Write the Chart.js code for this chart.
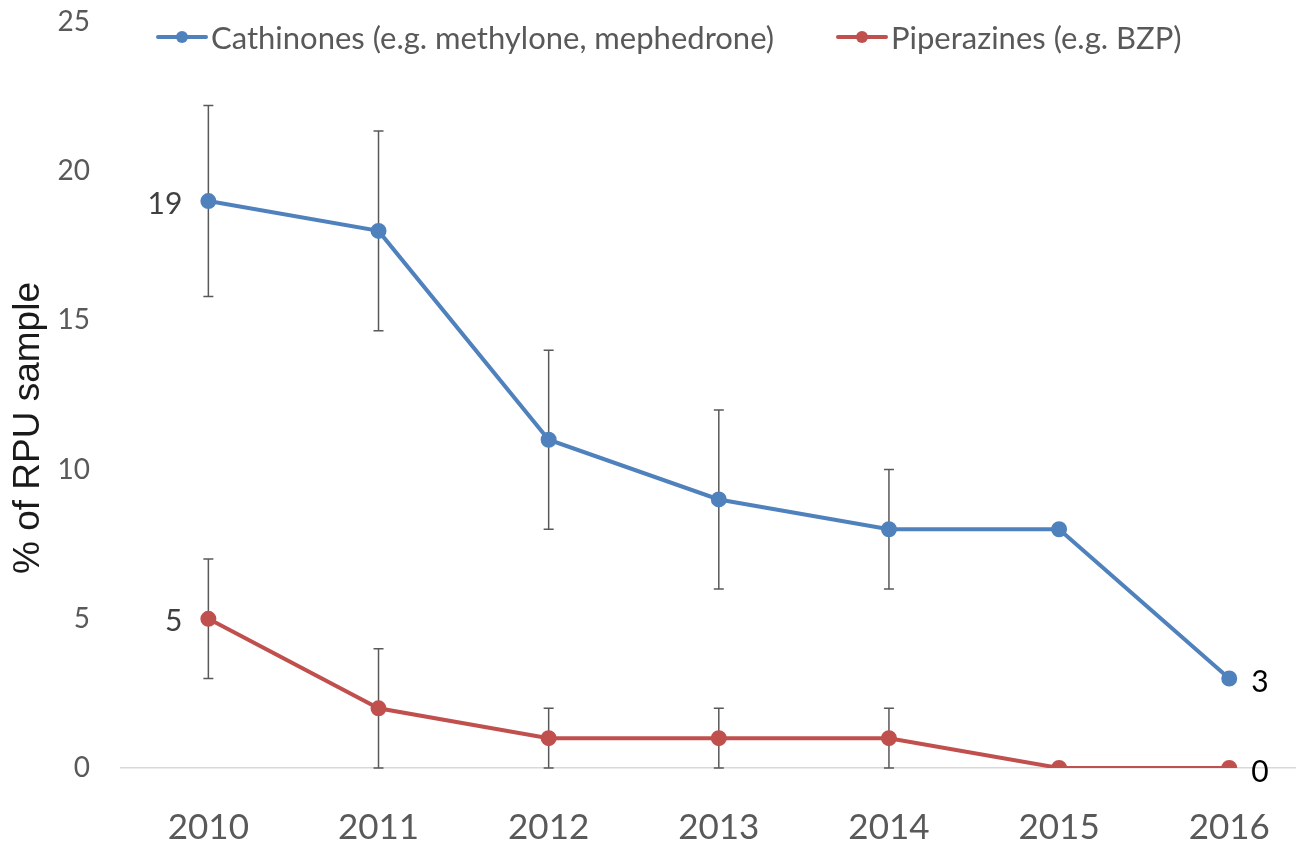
<!DOCTYPE html>
<html>
<head>
<meta charset="utf-8">
<script src="https://cdn.jsdelivr.net/npm/chart.js@4"></script>
<style>
  html, body { margin: 0; padding: 0; background: #fff; overflow: hidden; }
  #wrap { width: 1305px; height: 842px; position: relative; }
</style>
</head>
<body>
<div id="wrap"><canvas id="chart"></canvas></div>
<script>
// data
const years = ['2010', '2011', '2012', '2013', '2014', '2015', '2016'];
const cathinones = [19, 18, 11, 9, 8, 8, 3];
const cathLow = [15.8, 14.65, 8, 6, 6, null, null];
const cathHigh = [22.2, 21.35, 14, 12, 10, null, null];
const piperazines = [5, 2, 1, 1, 1, 0, 0];
const piperLow = [3, 0, 0, 0, 0, null, null];
const piperHigh = [7, 4, 2, 2, 2, null, null];
const yTicks = [0, 5, 10, 15, 20, 25];
const yTitle = '% of RPU sample';

const colors = { blue: '#4f81bd', red: '#c0504d', text: '#595959', axis: '#d9d9d9', err: '#595959' };
const FONT = 'Lato, "Open Sans", sans-serif';

// which points carry a value label and where
const pointLabels = [
    { ds: 0, i: 0, side: 'left', color: '#404040' },
    { ds: 1, i: 0, side: 'left', color: '#404040' },
    { ds: 0, i: 6, side: 'right', color: '#000000' },
    { ds: 1, i: 6, side: 'right', color: '#000000' }
];

const errorBars = {
    id: 'errorBars',
    beforeDatasetsDraw(chart) {
        const ctx = chart.ctx, xs = chart.scales.x, ys = chart.scales.y;
        const sets = [[cathLow, cathHigh], [piperLow, piperHigh]];
        ctx.save();
        ctx.strokeStyle = colors.err;
        ctx.lineWidth = 1.5;
        sets.forEach(([lo, hi]) => {
            lo.forEach((l, i) => {
                if (l === null) return;
                const x = xs.getPixelForValue(i);
                const y1 = ys.getPixelForValue(l), y2 = ys.getPixelForValue(hi[i]);
                ctx.beginPath();
                ctx.moveTo(x, y1); ctx.lineTo(x, y2);
                ctx.moveTo(x - 5, y1); ctx.lineTo(x + 5, y1);
                ctx.moveTo(x - 5, y2); ctx.lineTo(x + 5, y2);
                ctx.stroke();
            });
        });
        ctx.restore();
    },
    afterDatasetsDraw(chart) {
        const ctx = chart.ctx;
        ctx.save();
        ctx.font = '30px ' + FONT;
        ctx.textBaseline = 'middle';
        pointLabels.forEach(p => {
            const el = chart.getDatasetMeta(p.ds).data[p.i];
            const v = chart.data.datasets[p.ds].data[p.i].y;
            ctx.fillStyle = p.color;
            if (p.side === 'left') { ctx.textAlign = 'right'; ctx.fillText(v, el.x - 26, el.y + 3); }
            else { ctx.textAlign = 'left'; ctx.fillText(v, el.x + 22, el.y + 4); }
        });
        ctx.restore();
    }
};

// legend and y title drawn by hand so they can sit where the original has them
const customLegend = {
    id: 'customLegend',
    afterDraw(chart) {
        const ctx = chart.ctx;
        const items = [
            { x: 158, text: chart.data.datasets[0].label, color: colors.blue },
            { x: 838, text: chart.data.datasets[1].label, color: colors.red }
        ];
        ctx.save();
        ctx.font = '31px ' + FONT;
        ctx.textBaseline = 'middle';
        ctx.textAlign = 'left';
        items.forEach(it => {
            ctx.strokeStyle = it.color;
            ctx.lineWidth = 4;
            ctx.lineCap = 'round';
            ctx.beginPath(); ctx.moveTo(it.x, 37); ctx.lineTo(it.x + 48, 37); ctx.stroke();
            ctx.fillStyle = it.color;
            ctx.beginPath(); ctx.arc(it.x + 24, 37, 6, 0, Math.PI * 2); ctx.fill();
            ctx.fillStyle = colors.text;
            ctx.fillText(it.text, it.x + 53, 39);
        });

        ctx.translate(29, 428);
        ctx.rotate(-Math.PI / 2);
        ctx.font = '37px "Liberation Sans", Arial, sans-serif';
        ctx.textAlign = 'center';
        ctx.fillStyle = '#1a1a1a';
        ctx.fillText(yTitle, 0, 0);
        ctx.restore();
    }
};

const toPoints = arr => arr.map((v, i) => ({ x: i, y: v }));

new Chart(document.getElementById('chart'), {
    type: 'line',
    data: {
        datasets: [
            { label: 'Cathinones (e.g. methylone, mephedrone)', data: toPoints(cathinones), borderColor: colors.blue, backgroundColor: colors.blue, borderWidth: 4, pointRadius: 6, pointHoverRadius: 6, tension: 0 },
            { label: 'Piperazines (e.g. BZP)', data: toPoints(piperazines), borderColor: colors.red, backgroundColor: colors.red, borderWidth: 4, pointRadius: 6, pointHoverRadius: 6, tension: 0 }
        ]
    },
    options: {
        responsive: true, maintainAspectRatio: false, animation: false,
        layout: { padding: { top: 22, right: 0, left: 0, bottom: 0 } },
        plugins: { legend: { display: false }, tooltip: { enabled: false } },
        scales: {
            x: {
                type: 'linear', min: -0.5135, max: 6.3865,
                afterBuildTicks: s => { s.ticks = years.map((_, i) => ({ value: i })); },
                afterFit: s => { s.height = 74; s.paddingLeft = 0; s.paddingRight = 0; },
                grid: { display: false },
                border: { display: true, color: colors.axis, width: 1.5 },
                ticks: { color: colors.text, font: { family: FONT, size: 35 }, padding: 31, callback: v => years[v] }
            },
            y: {
                min: 0, max: 25,
                afterBuildTicks: s => { s.ticks = yTicks.map(v => ({ value: v })); },
                afterFit: s => { s.width = 121; s.paddingTop = 0; s.paddingBottom = 0; },
                grid: { display: false },
                border: { display: false },
                ticks: { color: colors.text, font: { family: FONT, size: 28 }, padding: 23 }
            }
        }
    },
    plugins: [errorBars, customLegend]
});
</script>
</body>
</html>
